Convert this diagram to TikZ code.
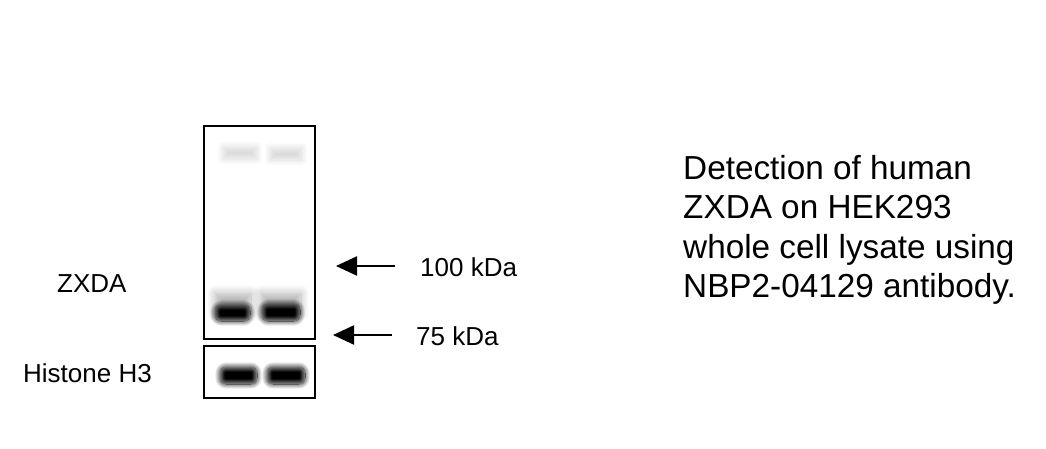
\documentclass[tikz,border=0pt]{standalone}
\usepackage{fontspec}
\setmainfont{Liberation Sans}
\usetikzlibrary{arrows.meta,shadows.blur}

\tikzset{
  blot/.style={draw=black, line width=2pt},
  band/.style={blur shadow={shadow xshift=0pt, shadow yshift=0pt, shadow blur radius=#1, shadow blur steps=14, shadow opacity=100}},
  faintband/.style={blur shadow={shadow xshift=0pt, shadow yshift=0pt, shadow blur radius=6pt, shadow blur steps=10, shadow opacity=15}},
  smear/.style={blur shadow={shadow xshift=0pt, shadow yshift=0pt, shadow blur radius=8pt, shadow blur steps=12, shadow opacity=30}},
  marker/.style={-{Triangle[length=21pt,width=19pt,fill=black]}, draw=black, line width=2.2pt},
  lbl/.style={inner sep=0pt, font=\fontsize{26}{31}\selectfont}
}

\begin{document}
\begin{tikzpicture}[x=1pt, y=-1pt]
\useasboundingbox (0,0) rectangle (1046,449);
% ZXDA bands
\path[faintband] (223,147) rectangle (257,159);
\path[faintband] (270,148) rectangle (302,160);
\path[smear] (215,293) rectangle (251,313);
\path[smear] (261,293) rectangle (301,313);
\path[band=5pt, rounded corners=6pt] (215,305) rectangle (250,321);
\path[band=5pt, rounded corners=6pt] (262,304) rectangle (300,321);
% Histone H3 bands
\path[band=5pt, rounded corners=6pt] (220,367) rectangle (257,384);
\path[band=5pt, rounded corners=6pt] (267,367) rectangle (305,384);
% blot frames
\draw[blot] (204,126) rectangle (315,339);
\draw[blot] (204,346) rectangle (315,398);
\node[lbl, anchor=base west] (zxda) at (57,292) {ZXDA};
\node[lbl, anchor=base west] (h3) at (23,382) {Histone H3};
% size markers
\node[lbl, anchor=base west] (m100) at (420,276) {100 kDa};
\node[lbl, anchor=base west] (m75) at (416,345) {75 kDa};
\coordinate (t100) at (395,266);
\coordinate (p100) at (336,266);
\coordinate (t75) at (392,335);
\coordinate (p75) at (333,335);
\draw[marker] (t100) -- (p100);
\draw[marker] (t75) -- (p75);
\node[inner sep=0pt, anchor=north west, align=left, font=\fontsize{33.3}{39.5}\selectfont] (caption) at (683,155) {Detection of human\\ZXDA on HEK293\\whole cell lysate using\\NBP2-04129 antibody.};
\end{tikzpicture}
\end{document}
